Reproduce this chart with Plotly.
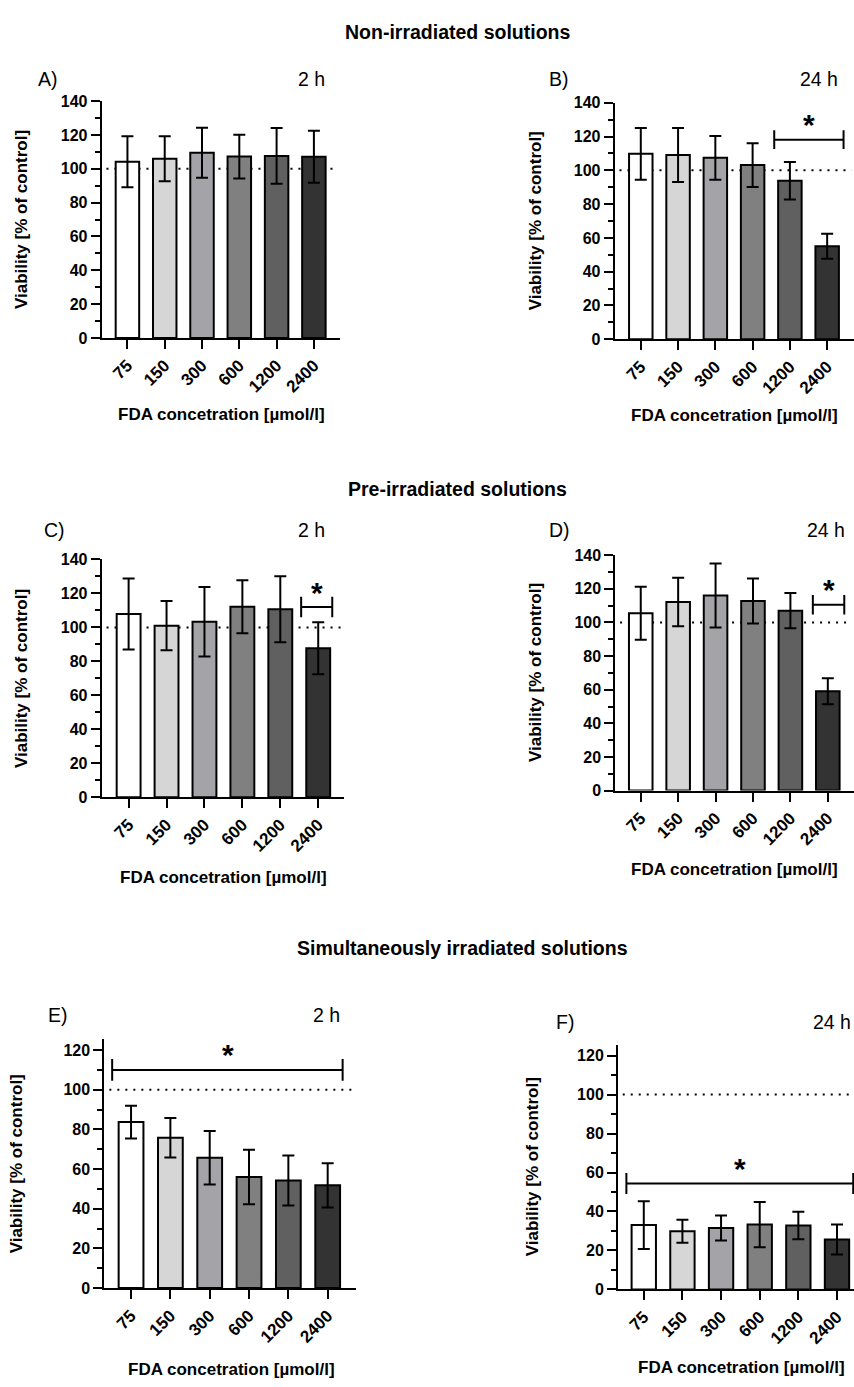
import plotly.graph_objects as go

W, H = 854, 1387

categories = ["75", "150", "300", "600", "1200", "2400"]
bar_colors = ["#ffffff", "#d6d6d6", "#a4a4a8", "#808080", "#606060", "#333333"]

# Non-irradiated, 2 h (A) and 24 h (B)
a_mean = [104.2, 106.0, 109.5, 107.2, 107.6, 107.1]
a_err = [15.1, 13.3, 14.8, 12.9, 16.5, 15.4]
b_mean = [109.8, 109.1, 107.4, 103.1, 93.9, 55.1]
b_err = [15.3, 16.0, 13.0, 13.0, 11.1, 7.4]
# Pre-irradiated, 2 h (C) and 24 h (D)
c_mean = [107.9, 101.0, 103.3, 112.1, 110.7, 87.7]
c_err = [20.9, 14.5, 20.5, 15.6, 19.4, 15.3]
d_mean = [105.5, 112.2, 116.0, 112.8, 107.0, 59.1]
d_err = [15.8, 14.4, 19.0, 13.4, 10.5, 7.7]
# Simultaneously irradiated, 2 h (E) and 24 h (F)
e_mean = [83.7, 75.8, 65.7, 56.0, 54.3, 51.8]
e_err = [8.3, 10.0, 13.5, 13.7, 12.6, 11.2]
f_mean = [33.0, 29.8, 31.5, 33.3, 32.8, 25.6]
f_err = [12.2, 5.9, 6.4, 11.6, 7.0, 7.7]

control_level = 100
y_tickvals = [0, 20, 40, 60, 80, 100, 120, 140]

FONT = "Liberation Sans, Arial, Helvetica, sans-serif"

panels = [
    dict(label="A)", time="2 h", mean=a_mean, err=a_err,
         box=(101.7, 340.0, 94.3, 334.0), xr=(-0.69, 5.70), yr=(0, 140),
         lab=(36, 72), tim=(327, 72, "right"), ytit=(21.7, 214), xtit=(221.7, 411.7),
         bracket=None),
    dict(label="B)", time="24 h", mean=b_mean, err=b_err,
         box=(614.7, 854.0, 96.0, 335.3), xr=(-0.70, 5.72), yr=(0, 140),
         lab=(547, 72), tim=(839.7, 72, "right"), ytit=(535.3, 215.7), xtit=(734, 413),
         bracket=(3.58, 5.44, 118.2, 5.5, 4.52)),
    dict(label="C)", time="2 h", mean=c_mean, err=c_err,
         box=(101.7, 344.0, 558.3, 799.0), xr=(-0.71, 5.68), yr=(0, 140),
         lab=(41.7, 528.3), tim=(326.7, 528.3, "right"), ytit=(21.7, 678.7), xtit=(223, 880),
         bracket=(4.55, 5.37, 112.0, 6.0, 4.97)),
    dict(label="D)", time="24 h", mean=d_mean, err=d_err,
         box=(615.3, 854.0, 554.0, 792.3), xr=(-0.68, 5.70), yr=(0, 140),
         lab=(547, 528), tim=(847, 528, "right"), ytit=(535.3, 673), xtit=(734, 871.7),
         bracket=(4.60, 5.44, 110.5, 5.8, 5.02)),
    dict(label="E)", time="2 h", mean=e_mean, err=e_err,
         box=(104.3, 356.0, 1044.0, 1296.0), xr=(-0.68, 5.72), yr=(0, 125.5),
         lab=(45.7, 1020), tim=(341.7, 1020, "right"), ytit=(16.7, 1170), xtit=(231, 1378.3),
         bracket=(-0.48, 5.38, 110.0, 5.5, 2.46)),
    dict(label="F)", time="24 h", mean=f_mean, err=f_err,
         box=(618.0, 854.0, 1050.0, 1297.3), xr=(-0.667, 5.44), yr=(0, 125.4),
         lab=(553.7, 1026.7), tim=(853, 1026.7, "right"), ytit=(532, 1173.7), xtit=(741, 1376.7),
         bracket=(-0.45, 5.42, 54.4, 5.4, 2.49)),
]

sections = [
    ("Non-irradiated solutions", 457.5, 24.5),
    ("Pre-irradiated solutions", 457.5, 487),
    ("Simultaneously irradiated solutions", 462, 951.5),
]


def px(x):
    return x / W


def py(y):
    return 1 - y / H


fig = go.Figure()
annotations = []
shapes = []

for i, p in enumerate(panels, start=1):
    sfx = "" if i == 1 else str(i)
    xa, ya = "x" + sfx, "y" + sfx
    x0, x1, ytop, ybot = p["box"]

    fig.add_trace(go.Bar(
        x=categories, y=p["mean"], xaxis=xa, yaxis=ya, width=0.63,
        marker=dict(color=bar_colors, line=dict(color="black", width=2)),
        error_y=dict(type="data", array=p["err"], visible=True,
                     color="black", thickness=2, width=6),
        showlegend=False, hoverinfo="x+y",
    ))

    fig.update_layout(**{
        "xaxis" + sfx: dict(
            domain=[px(x0), px(x1)], anchor=ya, type="category", range=list(p["xr"]),
            showline=True, linecolor="black", linewidth=2, mirror=False,
            ticks="outside", ticklen=9, tickwidth=2, tickcolor="black",
            tickangle=-45, tickfont=dict(family=FONT, size=17, color="black", weight="bold"),
            showgrid=False, zeroline=False, fixedrange=True,
        ),
        "yaxis" + sfx: dict(
            domain=[py(ybot), py(ytop)], anchor=xa, range=list(p["yr"]),
            tickvals=[v for v in y_tickvals if v <= p["yr"][1]],
            showline=True, linecolor="black", linewidth=2,
            ticks="outside", ticklen=9, tickwidth=2, tickcolor="black",
            tickfont=dict(family=FONT, size=16, color="black", weight="bold"),
            minor=dict(ticks="outside", dtick=10, ticklen=5, tickwidth=2, tickcolor="black", showgrid=False),
            showgrid=False, zeroline=False, fixedrange=True,
        ),
    })

    # dotted control line at 100 %
    shapes.append(dict(type="line", xref=xa + " domain", yref=ya, x0=0.02, x1=0.99,
                       y0=control_level, y1=control_level, layer="below",
                       line=dict(color="black", width=2, dash="2px,6px")))

    # significance bracket
    if p["bracket"]:
        bx0, bx1, by, bh, sx = p["bracket"]
        ln = dict(color="black", width=2)
        shapes.append(dict(type="line", xref=xa, yref=ya, x0=bx0, x1=bx1, y0=by, y1=by, line=ln))
        for bx in (bx0, bx1):
            shapes.append(dict(type="line", xref=xa, yref=ya, x0=bx, x1=bx, y0=by - bh, y1=by + bh, line=ln))
        annotations.append(dict(text="<b>*</b>", xref=xa, yref=ya, x=sx, y=by, yshift=15,
                                showarrow=False, xanchor="center", yanchor="middle",
                                font=dict(family=FONT, size=30, color="black")))

    # panel label and time
    annotations.append(dict(text=p["label"], xref="paper", yref="paper", x=px(p["lab"][0]), y=py(p["lab"][1]),
                            xanchor="left", yanchor="middle", showarrow=False,
                            font=dict(family=FONT, size=19.5, color="black")))
    tx, tyy, tanchor = p["tim"]
    annotations.append(dict(text=p["time"], xref="paper", yref="paper", x=px(tx), y=py(tyy),
                            xanchor=tanchor, yanchor="middle", showarrow=False,
                            font=dict(family=FONT, size=19.5, color="black")))
    # axis titles
    annotations.append(dict(text="Viability [% of control]", xref="paper", yref="paper",
                            x=px(p["ytit"][0]), y=py(p["ytit"][1]), textangle=-90,
                            xanchor="center", yanchor="middle", showarrow=False,
                            font=dict(family=FONT, size=17, color="black", weight="bold")))
    annotations.append(dict(text="FDA concetration [µmol/l]", xref="paper", yref="paper",
                            x=px(p["xtit"][0]), y=py(p["xtit"][1]),
                            xanchor="center", yanchor="middle", showarrow=False,
                            font=dict(family=FONT, size=17, color="black", weight="bold")))

for text, sx, sy in sections:
    annotations.append(dict(text=text, xref="paper", yref="paper", x=px(sx), y=py(sy),
                            xanchor="center", yanchor="middle", showarrow=False,
                            font=dict(family=FONT, size=19.5, color="black", weight="bold")))

fig.update_layout(
    width=W, height=H, margin=dict(l=0, r=0, t=0, b=0),
    paper_bgcolor="white", plot_bgcolor="white",
    bargap=0.37, showlegend=False,
    annotations=annotations, shapes=shapes,
)

post = (
    "document.documentElement.style.margin='0';"
    "document.body.style.margin='0';document.body.style.padding='0';"
    "var d=document.getElementById('{plot_id}');"
    "d.style.position='absolute';d.style.left='0px';d.style.top='0px';"
)

fig.write_html("out.html", config={"displayModeBar": False}, post_script=post)
